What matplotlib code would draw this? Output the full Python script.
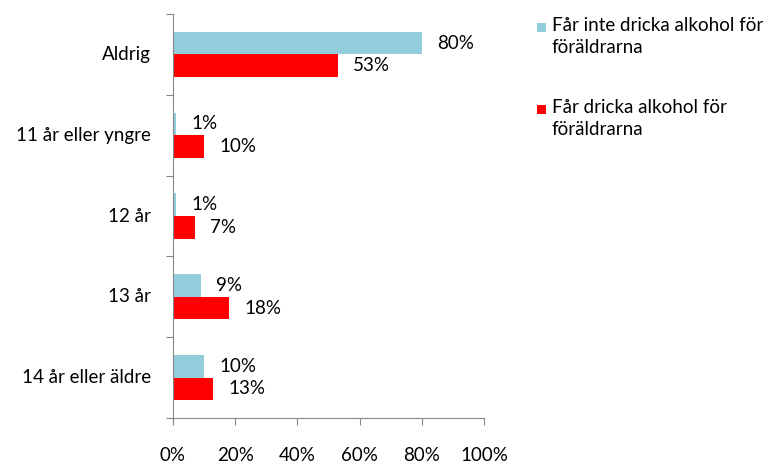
import matplotlib
matplotlib.use('Agg')
import matplotlib.pyplot as plt
import matplotlib.patches as patches
import numpy as np

plt.rcParams['font.family'] = ['Lato', 'DejaVu Sans']

categories = ['Aldrig', '11 år eller yngre', '12 år', '13 år', '14 år eller äldre']
ej_tillatelse = [80, 1, 1, 9, 10]
med_tillatelse = [53, 10, 7, 18, 13]
series_names = ['Får inte dricka alkohol för\nföräldrarna', 'Får dricka alkohol för\nföräldrarna']
colors = ['#92CDDC', '#FF0000']
xticks = [0, 20, 40, 60, 80, 100]

fs = 13.5

fig = plt.figure(figsize=(7.76, 4.65), dpi=100)
ax = fig.add_axes([173/776, 1 - 418/465, (484 - 173)/776, (418 - 14)/465])

y = np.arange(len(categories))
h = 0.28
ax.barh(y - h/2, ej_tillatelse, height=h, color=colors[0])
ax.barh(y + h/2, med_tillatelse, height=h, color=colors[1])

for yi, v in zip(y, ej_tillatelse):
    ax.annotate(f'{v}%', (v, yi - h/2), xytext=(11, 0), textcoords='offset points',
                va='center', ha='left', fontsize=fs)
for yi, v in zip(y, med_tillatelse):
    ax.annotate(f'{v}%', (v, yi + h/2), xytext=(11, 0), textcoords='offset points',
                va='center', ha='left', fontsize=fs)

ax.set_xlim(0, 100)
ax.set_ylim(len(categories) - 0.5, -0.5)
ax.set_xticks(xticks)
ax.set_xticklabels([f'{t}%' for t in xticks], fontsize=fs)
ax.tick_params(axis='x', length=5, color='#888888', pad=16)

ax.set_yticks(np.arange(-0.5, len(categories), 1.0))
ax.set_yticklabels([])
ax.tick_params(axis='y', length=5, color='#888888')
for yi, c in zip(y, categories):
    ax.text(-0.07, yi, c, transform=ax.get_yaxis_transform(), ha='right', va='center', fontsize=fs)

for s in ['top', 'right']:
    ax.spines[s].set_visible(False)
for s in ['left', 'bottom']:
    ax.spines[s].set_color('#888888')

# legend
for i, (name, col) in enumerate(zip(series_names, colors)):
    top = 17 + i * 82
    fig.patches.append(patches.Rectangle((537/776, 1 - (top + 15)/465), 9/776, 9/465,
                                         facecolor=col, transform=fig.transFigure))
    fig.text(552/776, 1 - top/465, name, ha='left', va='top', fontsize=fs, linespacing=1.35)

fig.savefig('out.png', dpi=100)
